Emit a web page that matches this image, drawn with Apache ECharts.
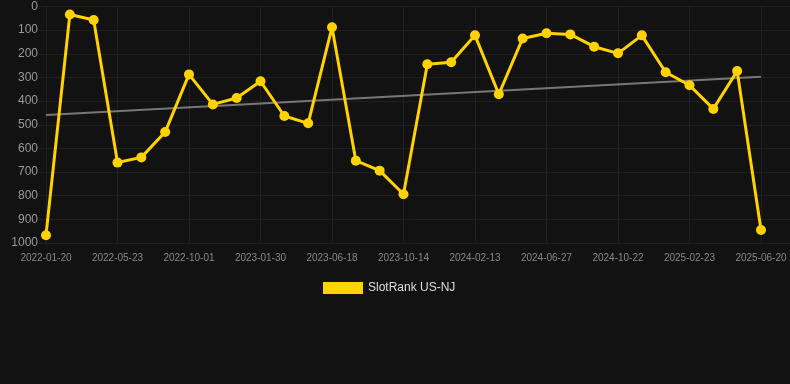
<!DOCTYPE html>
<html>
<head>
<meta charset="utf-8">
<script src="https://cdn.jsdelivr.net/npm/echarts@6/dist/echarts.min.js"></script>
<style>
html,body{margin:0;padding:0;background:#121212;}
#c{width:790px;height:384px;}
</style>
</head>
<body>
<div id="c"></div>
<script>
const categories = [
  '2022-01-20','2022-03-02','2022-04-12','2022-05-23','2022-07-05','2022-08-18',
  '2022-10-01','2022-11-10','2022-12-20','2023-01-30','2023-03-17','2023-05-02',
  '2023-06-18','2023-07-27','2023-09-04','2023-10-14','2023-11-24','2024-01-03',
  '2024-02-13','2024-03-29','2024-05-13','2024-06-27','2024-08-05','2024-09-13',
  '2024-10-22','2024-12-03','2025-01-13','2025-02-23','2025-04-03','2025-05-12',
  '2025-06-20'
];
const slotRank = [
  967, 34, 57, 660, 638, 531,
  287, 414, 387, 316, 463, 494,
  88, 652, 694, 794, 244, 236,
  122, 371, 135, 113, 118, 170,
  198, 122, 278, 333, 433, 273,
  945
];
const trendStart = 459;
const trendEnd = 297;

const trendData = categories.map((c, i) =>
  i === 0 ? trendStart : (i === categories.length - 1 ? trendEnd : null));

const chart = echarts.init(document.getElementById('c'));
chart.setOption({
  backgroundColor: '#121212',
  animation: false,
  textStyle: { fontFamily: 'Liberation Sans, Arial, sans-serif' },
  grid: [
    { left: 46, right: 29, top: 6.5, bottom: 141 },
    { left: 39, right: 0, top: 6.5, bottom: 141 }
  ],
  legend: {
    data: ['SlotRank US-NJ'],
    top: 277,
    left: 318,
    itemWidth: 40,
    itemHeight: 12,
    itemGap: 10,
    textStyle: { color: '#dddddd', fontSize: 12 },
    icon: 'rect'
  },
  xAxis: [
    {
      type: 'category',
      gridIndex: 0,
      data: categories,
      boundaryGap: false,
      axisLine: { show: false },
      axisTick: { show: false },
      axisLabel: { color: '#888888', fontSize: 10, margin: 10, interval: 2 },
      splitLine: { show: true, interval: 2, lineStyle: { color: '#1f1f1f', width: 1 } }
    },
    { type: 'value', gridIndex: 1, show: false, min: 0, max: 1 }
  ],
  yAxis: [
    {
      type: 'value',
      gridIndex: 0,
      inverse: true,
      min: 0,
      max: 1000,
      interval: 100,
      axisLine: { show: false },
      axisTick: { show: false },
      axisLabel: { color: '#999999', fontSize: 12, margin: 8, formatter: v => String(v) },
      splitLine: { show: false }
    },
    {
      type: 'value',
      gridIndex: 1,
      inverse: true,
      min: 0,
      max: 1000,
      interval: 100,
      axisLine: { show: false },
      axisTick: { show: false },
      axisLabel: { show: false },
      splitLine: { show: true, lineStyle: { color: '#1f1f1f', width: 1 } }
    }
  ],
  series: [
    {
      name: 'trend',
      type: 'line',
      xAxisIndex: 0,
      yAxisIndex: 0,
      data: trendData,
      connectNulls: true,
      showSymbol: false,
      symbol: 'none',
      silent: true,
      lineStyle: { color: '#777777', width: 2 },
      z: 2
    },
    {
      name: 'SlotRank US-NJ',
      type: 'line',
      xAxisIndex: 0,
      yAxisIndex: 0,
      data: slotRank,
      symbol: 'circle',
      symbolSize: 10,
      itemStyle: { color: '#ffd200' },
      lineStyle: { color: '#ffd200', width: 3 },
      z: 3
    }
  ]
});
</script>
</body>
</html>
